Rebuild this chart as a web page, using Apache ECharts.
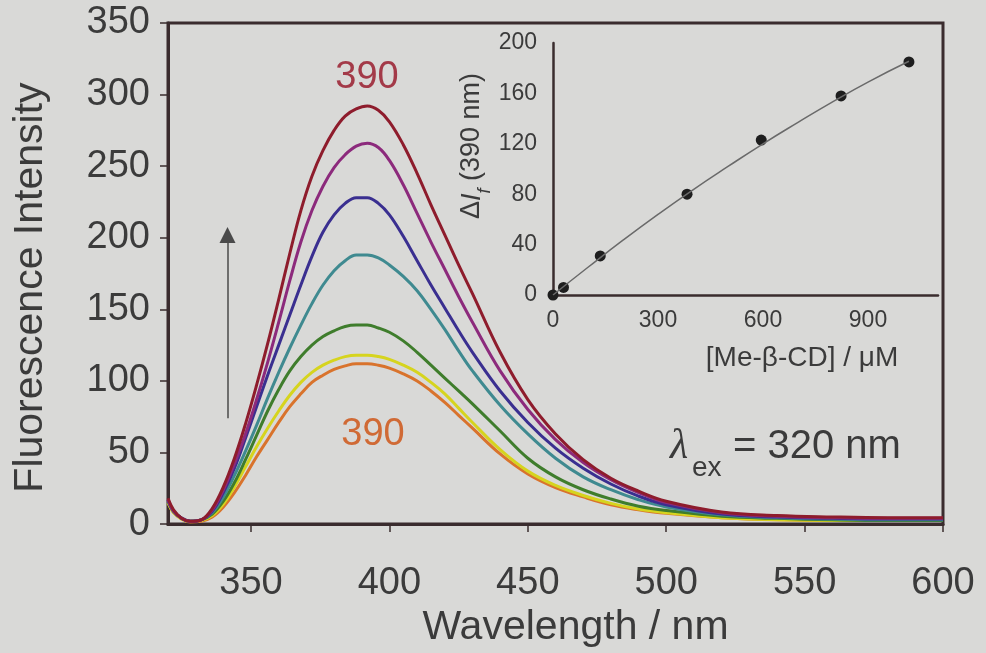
<!DOCTYPE html>
<html>
<head>
<meta charset="utf-8">
<script src="https://cdn.jsdelivr.net/npm/echarts@6/dist/echarts.min.js"></script>
<style>
    html, body { margin: 0; padding: 0; background: #d9d9d7; }
    #container { width: 986px; height: 653px; }
</style>
</head>
<body>
<div id="container"></div>
<script>
    // emission spectra
    var wavelength = [320,322,325,328,332,336,340,344,348,352,356,360,364,368,372,376,380,384,388,392,396,400,405,410,415,420,425,430,440,450,460,470,480,490,500,520,540,560,580,600];
    var curveOrange = [15,8,3.5,1.5,2,5,12,22,34,47,59,71,82,91,99,104,108,110.5,112,112,111,109,105,100,93,85,76,67,49,35,25.5,19,13.5,10,7.5,4.5,3,2.5,2.5,2.5];
    var curveYellow = [15,8,3.5,2,2.5,6,14,26,40,54,67,79,90,99,106,111,114.5,117,118,118,117,115,111,106,99,91,81,71,52,37,27,20,14.5,10.5,8,4.5,3,2.5,2.5,2.5];
    var curveGreen  = [16,9,4,2,3,7,16,29,45,62,79,94,107,117,125,131,135,138,139,139,137,134,128,120,111,102,93,84,65,46,33,24,17.5,12.5,9.5,5.5,4,3,2.5,2.5];
    var curveTeal   = [16,9,4,2,3,8,19,34,51,69,88,106,123,139,154,167,177,184,188,188,186,181,173,163,150,136,121,107,83,63,46,33,24,17,12,6.5,4.5,3.5,3,3];
    var curveBlue   = [17,9,4,2,3,9,22,39,60,82,104,125,146,167,187,204,216,224,228,228,224,216,201,184,167,151,135,120,93,71,53,39,28,19.5,13.5,7,5,4,3.5,3.5];
    var curvePurple = [17,9,4,2,3,10,24,42,63,87,113,141,170,197,219,236,249,258,264,266,263,254,237,217,197,178,159,141,107,80,59,43,31,22,15,8,5.5,4.5,4,4];
    var curveRed    = [18,10,4,2,3,11,26,46,70,97,126,157,189,219,243,261,275,285,290,292,289,281,265,245,223,202,181,161,120,87,63,45,32,23,16,8.5,6,5,4.5,4.5];
    var xTicks = [350,400,450,500,550,600];

    // inset: intensity change at 390 nm vs concentration
    var insetConc  = [0,30,135,383,595,823,1017];
    var insetDelta = [0,6,31,80,123,158,185];
    // fitted line drawn through the points
    var fitConc  = [0,100,200,300,400,500,600,700,800,900,1017];
    var fitDelta = [0,22,43.5,64,83.5,102,120,137,153.5,169,185.5];
    var insetXTicks = [0,300,600,900];

    var curves = [
        {data: curveOrange, color: '#d9732c'},
        {data: curveYellow, color: '#d6d41e'},
        {data: curveGreen,  color: '#3f7d2c'},
        {data: curveTeal,   color: '#3f8a90'},
        {data: curveBlue,   color: '#3a2f90'},
        {data: curvePurple, color: '#8c2a7c'},
        {data: curveRed,    color: '#8e1c2c'}
    ];

    var frame = '#3a2c2e';
    var txt = '#3b3b3b';
    var font = 'Liberation Sans';

    var series = curves.map(function (c) {
        return {
            type: 'line',
            xAxisIndex: 0,
            yAxisIndex: 0,
            smooth: 0.4,
            showSymbol: false,
            lineStyle: {color: c.color, width: 3},
            data: wavelength.map(function (w, i) { return [w, c.data[i]]; })
        };
    });
    // arrow
    series[0].markLine = {
        silent: true,
        symbol: ['none', 'triangle'],
        symbolSize: 16,
        label: {show: false},
        lineStyle: {color: '#4a4a4a', width: 1.5, type: 'solid'},
        data: [[{coord: [341.5, 74]}, {coord: [341.5, 202]}]]
    };
    series.push({
        type: 'line',
        xAxisIndex: 1,
        yAxisIndex: 1,
        smooth: true,
        showSymbol: false,
        lineStyle: {color: '#6a6a6a', width: 1.5},
        data: fitConc.map(function (c, i) { return [c, fitDelta[i]]; })
    });
    series.push({
        type: 'scatter',
        xAxisIndex: 1,
        yAxisIndex: 1,
        symbolSize: 11,
        itemStyle: {color: '#1e1e1e', opacity: 1},
        data: insetConc.map(function (c, i) { return [c, insetDelta[i]]; })
    });

    var myChart = echarts.init(document.getElementById('container'));
    var option = {
        animation: false,
        backgroundColor: '#d9d9d7',
        textStyle: {fontFamily: font, color: txt},
        grid: [
            {left: 168, right: 43, top: 23, bottom: 124, show: true, borderColor: frame, borderWidth: 3},
            {left: 553, right: 48, top: 43, bottom: 358}
        ],
        xAxis: [{
            gridIndex: 0, type: 'value', min: 320, max: 600,
            name: 'Wavelength / nm', nameLocation: 'middle', nameGap: 78,
            nameTextStyle: {fontSize: 41, color: txt, padding: [0, 0, 0, 40]},
            axisLine: {lineStyle: {color: frame, width: 3}},
            axisTick: {show: true, length: 8, customValues: xTicks, lineStyle: {color: frame, width: 1.5}},
            axisLabel: {fontSize: 38, color: txt, margin: 40, customValues: xTicks},
            splitLine: {show: false}
        }, {
            gridIndex: 1, type: 'value', min: 0, max: 1100,
            axisLine: {lineStyle: {color: frame, width: 2.5}},
            axisTick: {show: false},
            axisLabel: {fontSize: 23, color: txt, margin: 14, customValues: insetXTicks},
            splitLine: {show: false}
        }],
        yAxis: [{
            gridIndex: 0, type: 'value', min: 0, max: 350, interval: 50,
            name: 'Fluorescence Intensity', nameLocation: 'middle', nameGap: 117,
            nameTextStyle: {fontSize: 41, color: txt, padding: [0, 28, 0, 0]},
            axisLine: {lineStyle: {color: frame, width: 3}},
            axisTick: {show: true, length: 8, lineStyle: {color: frame, width: 1.5}},
            axisLabel: {fontSize: 38, color: txt, margin: 18},
            splitLine: {show: false}
        }, {
            gridIndex: 1, type: 'value', min: 0, max: 200, interval: 40,
            axisLine: {show: true, lineStyle: {color: frame, width: 2.5}},
            axisTick: {show: false},
            axisLabel: {fontSize: 23, color: txt, margin: 16},
            splitLine: {show: false}
        }],
        graphic: [
            {type: 'text', x: 367, y: 78, style: {text: '390', fontSize: 38, fontFamily: font, fill: '#a33a48', align: 'center', verticalAlign: 'middle'}},
            {type: 'text', x: 373, y: 435, style: {text: '390', fontSize: 38, fontFamily: font, fill: '#d06a35', align: 'center', verticalAlign: 'middle'}},
            {type: 'text', x: 670, y: 447, style: {text: 'λ', fontSize: 42, fontStyle: 'italic', fontFamily: 'Liberation Serif', fill: txt, align: 'left', verticalAlign: 'middle'}},
            {type: 'text', x: 692, y: 468, style: {text: 'ex', fontSize: 28, fontFamily: font, fill: txt, align: 'left', verticalAlign: 'middle'}},
            {type: 'text', x: 733, y: 447, style: {text: '= 320 nm', fontSize: 40, fontFamily: font, fill: txt, align: 'left', verticalAlign: 'middle'}},
            {type: 'text', x: 802, y: 358, style: {text: '[Me-β-CD] / μM', fontSize: 28, fontFamily: font, fill: txt, align: 'center', verticalAlign: 'middle'}},
            {type: 'text', x: 472, y: 146, rotation: Math.PI / 2,
                style: {
                    text: '{d|Δ}{i|I}{f|f}{d| (390 nm)}',
                    align: 'center', verticalAlign: 'middle', fill: txt,
                    rich: {
                        d: {fontSize: 27, fontFamily: font, color: txt},
                        i: {fontSize: 27, fontFamily: font, fontStyle: 'italic', color: txt},
                        f: {fontSize: 18, fontFamily: font, fontStyle: 'italic', color: txt, verticalAlign: 'bottom', lineHeight: 44}
                    }
                }}
        ],
        series: series
    };
    myChart.setOption(option);
</script>
</body>
</html>
